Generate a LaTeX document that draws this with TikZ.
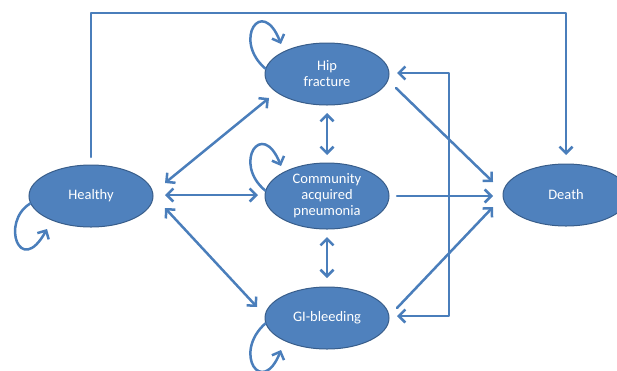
\documentclass[tikz,border=0pt]{standalone}
\usepackage{fontspec}
\setmainfont{Carlito}
\usetikzlibrary{arrows.meta,calc,shapes.geometric}
\definecolor{nodefill}{HTML}{4F81BD}
\definecolor{nodeline}{HTML}{385D8A}
\definecolor{arrcol}{HTML}{4A7EBB}
\tikzset{
  state/.style={ellipse, draw=nodeline, line width=1pt, fill=nodefill, text=white,
    minimum width=124pt, minimum height=62pt, inner sep=0pt, align=center,
    font=\fontsize{14.5}{16}\selectfont},
  conn/.style={draw=arrcol, line width=2.5pt, line cap=round, line join=round},
  oneway/.style={conn, -{Straight Barb[length=6.5pt,width=13pt]}},
  twoway/.style={conn, {Straight Barb[length=6.5pt,width=13pt]}-{Straight Barb[length=6.5pt,width=13pt]}}
}
\begin{document}
\begin{tikzpicture}[x=1pt,y=-1pt]
\useasboundingbox (0,0) rectangle (617,370);
\clip (0,0) rectangle (617,370);

\node[state] (healthy) at (91,196) {Healthy};
\node[state] (hip) at (327,74) {Hip\\fracture};
\node[state, minimum height=66pt] (cap) at (327,196) {Community\\acquired\\pneumonia};
\node[state] (gi) at (327,318) {GI-bleeding};
\node[state, minimum width=126pt] (death) at (566,195) {Death};

\coordinate (topleft) at (91,13);
\coordinate (topright) at (566,13);
\coordinate (brbottom) at (449,316);

% self loops
\draw[oneway] (hip.175) .. controls (232,40) and (262,-5) .. (281,44);
\draw[oneway] (cap.175) .. controls (232,163) and (262,118) .. (281,166);
\draw[oneway] (gi.185) .. controls (232,353) and (262,398) .. (281,350);
\draw[oneway] (healthy.187) .. controls (0,222) and (20,278) .. (47,229);

% healthy to middle column
\draw[twoway] ($(healthy.center)+(74,-13)$) -- ($(hip.center)+(-58,24)$);
\draw[twoway] ($(healthy.center)+(74,-1)$) -- ($(cap.center)+(-69,-1)$);
\draw[twoway] ($(healthy.center)+(74,12)$) -- ($(gi.center)+(-70,-11)$);

% vertical between middle nodes
\draw[twoway] ($(hip.center)+(0,39)$) -- ($(cap.center)+(0,-41)$);
\draw[twoway] ($(cap.center)+(0,41)$) -- ($(gi.center)+(0,-40)$);

% to death
\draw[oneway] ($(hip.center)+(69,14)$) -- ($(death.center)+(-73,-13)$);
\draw[oneway] ($(cap.center)+(70,0)$) -- ($(death.center)+(-73,1)$);
\draw[oneway] ($(gi.center)+(70,-10)$) -- ($(death.center)+(-73,12)$);

% return bracket
\draw[twoway] ($(hip.center)+(70,-1)$) -| (brbottom) -- ($(gi.center)+(70,-2)$);

% top line healthy -> death
\draw[oneway] ($(healthy.center)+(0,-39)$) -- (topleft) -- (topright) -- ($(death.center)+(0,-40)$);
\end{tikzpicture}
\end{document}
